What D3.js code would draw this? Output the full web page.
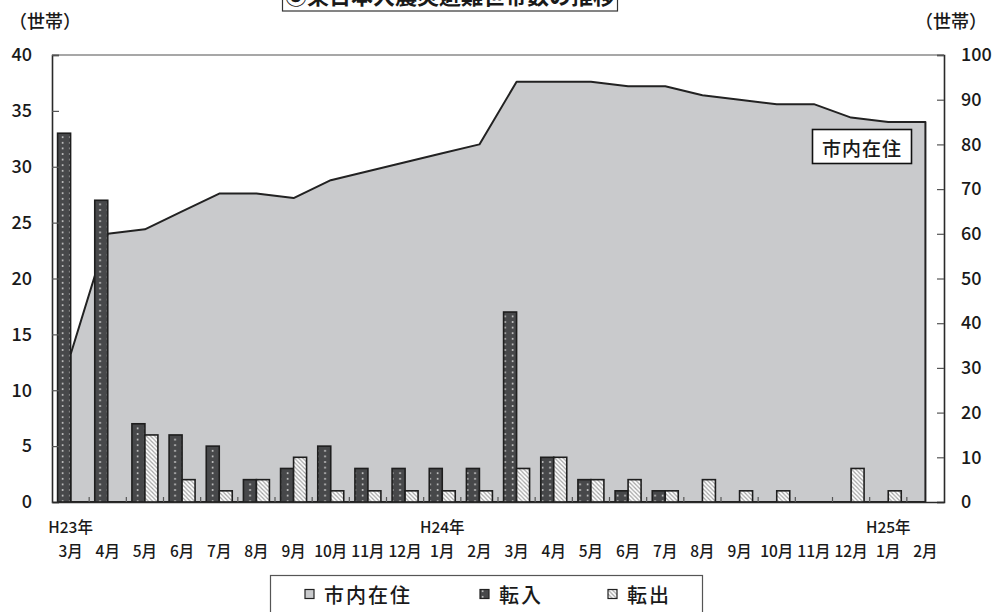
<!DOCTYPE html>
<html>
<head>
<meta charset="utf-8">
<script src="https://cdn.jsdelivr.net/npm/d3@7"></script>
<style>
  body { margin: 0; background: #fff; }
  svg { display: block; }
  text { font-family: "Noto Sans CJK JP", "Noto Sans", sans-serif; fill: #1a1a1a; }
</style>
</head>
<body>
<svg id="chart" width="1000" height="612"></svg>
<script>
// Months from H23年3月 to H25年2月
const categories = ["3月","4月","5月","6月","7月","8月","9月","10月","11月","12月","1月","2月",
                    "3月","4月","5月","6月","7月","8月","9月","10月","11月","12月","1月","2月"];
const yearLabels = ["H23年","H24年","H25年"];
const yearLabelIndex = [0, 10, 22];

// Households living in the city (right axis)
const resident = [33,60,61,65,69,69,68,72,74,76,78,80,94,94,94,93,93,91,90,89,89,86,85,85];
// Households moving in / out each month (left axis)
const movedIn  = [33,27,7,6,5,2,3,5,3,3,3,3,17,4,2,1,1,0,0,0,0,0,0,0];
const movedOut = [0,0,6,2,1,2,4,1,1,1,1,1,3,4,2,2,1,2,1,1,0,3,1,0];

const leftTicks = [0,5,10,15,20,25,30,35,40];
const rightTicks = [0,10,20,30,40,50,60,70,80,90,100];
const seriesNames = ["市内在住","転入","転出"];

const plot = { left: 52, right: 944, top: 55, bottom: 502 };
const FONT = '"Noto Sans CJK JP", "Noto Sans", sans-serif';
const svg = d3.select("#chart");
const defs = svg.append("defs");

// fill patterns: dotted dark for 転入, diagonal hatch for 転出
const dots = defs.append("pattern").attr("id", "dots")
  .attr("patternUnits", "userSpaceOnUse").attr("width", 7.5).attr("height", 5.6);
dots.append("rect").attr("width", 7.5).attr("height", 5.6).attr("fill", "#47484a");
dots.append("circle").attr("cx", 2.6).attr("cy", 2.8).attr("r", 0.95).attr("fill", "#d2d2d2");

const hatch = defs.append("pattern").attr("id", "hatch")
  .attr("patternUnits", "userSpaceOnUse").attr("width", 4.2).attr("height", 4.2);
hatch.append("rect").attr("width", 4.2).attr("height", 4.2).attr("fill", "#ffffff");
hatch.append("path").attr("d", "M0,0L4.2,4.2M-1,3.2L1,5.2M3.2,-1L5.2,1")
  .attr("stroke", "#a3a3a3").attr("stroke-width", 1.2);

const x = d3.scaleBand().domain(d3.range(categories.length)).range([plot.left, plot.right]);
const sub = d3.scaleBand().domain(["in", "out"]).range([0, x.bandwidth()]).paddingOuter(0.43);
const y1 = d3.scaleLinear().domain([0, 40]).range([plot.bottom, plot.top]);
const y2 = d3.scaleLinear().domain([0, 100]).range([plot.bottom, plot.top]);
const cx = i => x(i) + x.bandwidth() / 2;

// title box
svg.append("rect").attr("x", 282.5).attr("y", -30).attr("width", 335).attr("height", 41)
  .attr("fill", "#fff").attr("stroke", "#333").attr("stroke-width", 1.2);
svg.append("text").attr("x", 450).attr("y", 4).attr("text-anchor", "middle")
  .attr("font-size", 22).attr("font-weight", "bold").text("③東日本大震災避難世帯数の推移");

// unit labels
svg.append("text").attr("x", 9).attr("y", 20).attr("dominant-baseline", "central")
  .attr("font-size", 18).attr("font-weight", 500).text("（世帯）");
svg.append("text").attr("x", 987).attr("y", 20).attr("dominant-baseline", "central")
  .attr("text-anchor", "end").attr("font-size", 18).attr("font-weight", 500).text("（世帯）");

// area of resident households
const area = d3.area().x((d, i) => cx(i)).y0(y2(0)).y1(d => y2(d));
svg.append("path").datum(resident).attr("d", area)
  .attr("fill", "#c9cacc").attr("stroke", "#222").attr("stroke-width", 2)
  .attr("stroke-linejoin", "round");

// bars
const barData = [];
movedIn.forEach((v, i) => { if (v > 0) barData.push({ i, key: "in", v }); });
movedOut.forEach((v, i) => { if (v > 0) barData.push({ i, key: "out", v }); });
svg.append("g").selectAll("rect").data(barData).join("rect")
  .attr("x", d => x(d.i) + sub(d.key))
  .attr("y", d => y1(d.v))
  .attr("width", sub.bandwidth())
  .attr("height", d => y1(0) - y1(d.v))
  .attr("fill", d => d.key === "in" ? "url(#dots)" : "url(#hatch)")
  .attr("stroke", "#1e1e1e").attr("stroke-width", 1.6);

// plot frame: top border
svg.append("line").attr("x1", plot.left).attr("x2", plot.right)
  .attr("y1", plot.top).attr("y2", plot.top).attr("stroke", "#8a8a8a").attr("stroke-width", 1.5);

// left axis
const gl = svg.append("g").attr("transform", `translate(${plot.left},0)`)
  .call(d3.axisLeft(y1).tickValues(leftTicks).tickSize(-7).tickPadding(20));
// right axis
const gr = svg.append("g").attr("transform", `translate(${plot.right},0)`)
  .call(d3.axisRight(y2).tickValues(rightTicks).tickSize(-7).tickPadding(17));
[gl, gr].forEach(g => {
  g.select(".domain").attr("stroke", "#2a2a2a").attr("stroke-width", 1.6);
  g.selectAll(".tick line").attr("stroke", "#555").attr("stroke-width", 1.2);
  g.selectAll(".tick text").attr("font-size", 18).attr("font-weight", 500)
    .attr("font-family", FONT).attr("fill", "#1a1a1a");
});

// bottom axis with month labels
const gb = svg.append("g").attr("transform", `translate(0,${plot.bottom})`)
  .call(d3.axisBottom(x).tickSize(0).tickPadding(44).tickFormat(i => categories[i]));
gb.select(".domain").attr("stroke", "#2a2a2a").attr("stroke-width", 1.6);
gb.selectAll(".tick text").attr("font-size", 15.5).attr("font-weight", 500)
  .attr("font-family", FONT).attr("fill", "#1a1a1a");
// category boundary ticks
svg.append("g").selectAll("line").data(d3.range(1, categories.length)).join("line")
  .attr("x1", i => x(i)).attr("x2", i => x(i))
  .attr("y1", plot.bottom).attr("y2", plot.bottom - 5)
  .attr("stroke", "#555").attr("stroke-width", 1.2);

// year labels
svg.append("g").selectAll("text").data(yearLabels).join("text")
  .attr("x", (d, k) => cx(yearLabelIndex[k]))
  .attr("y", 526).attr("text-anchor", "middle").attr("dominant-baseline", "central")
  .attr("font-size", 15.5).attr("font-weight", 500).text(d => d);

// series label inside the plot
svg.append("rect").attr("x", 812.5).attr("y", 129.5).attr("width", 99).attr("height", 34)
  .attr("fill", "#fff").attr("stroke", "#111").attr("stroke-width", 1.6);
svg.append("text").attr("x", 862).attr("y", 147).attr("text-anchor", "middle")
  .attr("dominant-baseline", "central").attr("font-size", 19).attr("font-weight", 500)
  .attr("letter-spacing", 1).text(seriesNames[0]);

// legend
svg.append("rect").attr("x", 270.5).attr("y", 575.5).attr("width", 432).attr("height", 50)
  .attr("fill", "#fff").attr("stroke", "#555").attr("stroke-width", 1.2);
const legendFill = ["#c9cacc", "url(#dots)", "url(#hatch)"];
const legendX = [305, 480, 608];
const lg = svg.append("g").selectAll("g").data(seriesNames).join("g")
  .attr("transform", (d, k) => `translate(${legendX[k]},594)`);
lg.append("rect").attr("x", 0).attr("y", -4.5).attr("width", 9).attr("height", 9)
  .attr("fill", (d, k) => legendFill[k]).attr("stroke", "#222").attr("stroke-width", 1.2);
lg.append("text").attr("x", 19).attr("y", 0).attr("dominant-baseline", "central")
  .attr("font-size", 20).attr("font-weight", 500).attr("letter-spacing", 2).text(d => d);
</script>
</body>
</html>
